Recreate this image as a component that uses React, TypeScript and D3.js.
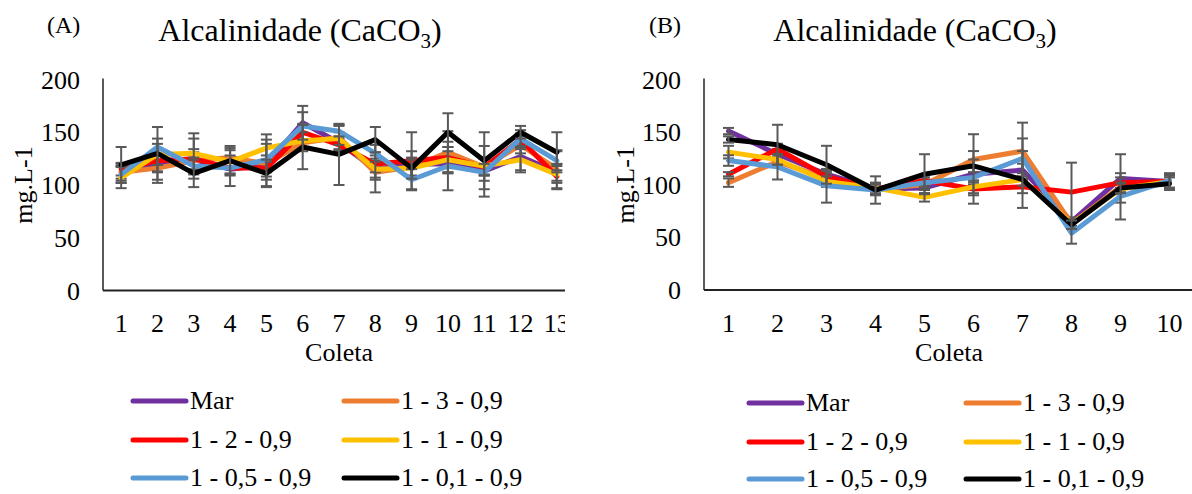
import React from "react";
import * as d3 from "d3";

const seriesNames = ["Mar", "1 - 3 - 0,9", "1 - 2 - 0,9", "1 - 1 - 0,9", "1 - 0,5 - 0,9", "1 - 0,1 - 0,9"];
const seriesColors = ["#7030A0", "#ED7D31", "#FF0000", "#FFC000", "#5B9BD5", "#000000"];
const yTicks = [0, 50, 100, 150, 200];

// Panel A (13 coletas)
const coletasA = ["1", "2", "3", "4", "5", "6", "7", "8", "9", "10", "11", "12", "13"];
const aMar = [112, 120, 124, 115, 119, 159, 140, 115, 120, 120, 113, 127, 112];
const a13 = [112, 116, 123, 126, 120, 140, 145, 112, 117, 131, 117, 138, 115];
const a12 = [115, 123, 125, 116, 116, 150, 138, 120, 123, 126, 117, 143, 108];
const a11 = [107, 129, 130, 122, 135, 142, 144, 115, 116, 124, 118, 124, 110];
const a05 = [110, 136, 118, 116, 124, 156, 151, 130, 105, 118, 112, 144, 123];
const a01 = [119, 130, 111, 123, 111, 136, 129, 143, 116, 150, 123, 150, 131];
const eMarA = [6, 8, 10, 6, 20, 16, 6, 8, 12, 8, 24, 15, 8];
const e13A = [8, 14, 8, 11, 8, 8, 12, 19, 8, 20, 8, 8, 18];
const e12A = [6, 10, 19, 6, 8, 8, 6, 8, 27, 10, 8, 6, 12];
const e11A = [10, 10, 19, 6, 13, 8, 6, 10, 8, 12, 8, 10, 8];
const e05A = [8, 8, 8, 17, 19, 13, 5, 8, 10, 23, 8, 8, 9];
const e01A = [17, 25, 13, 12, 13, 21, 29, 12, 10, 18, 27, 6, 19];

// Panel B (10 coletas)
const coletasB = ["1", "2", "3", "4", "5", "6", "7", "8", "9", "10"];
const bMar = [151, 129, 110, 96, 97, 110, 114, 65, 106, 103];
const b13 = [102, 122, 106, 96, 100, 124, 132, 63, 98, 103];
const b12 = [110, 134, 108, 96, 104, 96, 98, 93, 102, 103];
const b11 = [131, 124, 103, 97, 88, 98, 105, 63, 96, 103];
const b05 = [123, 117, 99, 95, 102, 107, 125, 54, 89, 104];
const b01 = [143, 138, 119, 95, 110, 118, 105, 62, 97, 101];
const eMarB = [3, 5, 5, 5, 5, 6, 6, 4, 23, 6];
const e13B = [4, 5, 5, 5, 5, 24, 27, 4, 5, 6];
const e12B = [2, 5, 5, 5, 5, 6, 6, 28, 5, 6];
const e11B = [6, 5, 5, 5, 4, 6, 6, 4, 5, 6];
const e05B = [5, 12, 16, 13, 5, 25, 19, 10, 22, 7];
const e01B = [3, 19, 18, 5, 19, 6, 27, 4, 5, 6];

const FONT = "'Liberation Serif', 'Times New Roman', serif";

type PanelProps = {
  id: string;
  label: string;
  labelX: number;
  cats: string[];
  values: number[][];
  errors: number[][];
  x0: number;
  x1: number;
  clipRight: number;
  yTop: number;
  yBottom: number;
  titleX: number;
  yTitleX: number;
  legendY: number[];
  legendX: number[];
};

function Panel(p: PanelProps) {
  const x = d3.scalePoint<string>().domain(p.cats).range([p.x0, p.x1]).padding(0.5);
  const y = d3.scaleLinear().domain([0, 200]).range([p.yBottom, p.yTop]);
  const line = d3
    .line<number>()
    .x((_, i) => x(p.cats[i]) as number)
    .y((d) => y(d));
  const axisRight = Math.min(p.x1, p.clipRight);
  return (
    <g fontFamily={FONT} fill="#000">
      <defs>
        <clipPath id={`clip-${p.id}`}>
          <rect x={0} y={0} width={p.clipRight} height={494} />
        </clipPath>
      </defs>
      <text x={p.labelX} y={33} fontSize={24}>
        {p.label}
      </text>
      <text x={p.titleX} y={41} fontSize={32} textAnchor="middle">
        Alcalinidade (CaCO
        <tspan fontSize={21} dy={7}>
          3
        </tspan>
        <tspan dy={-7}>)</tspan>
      </text>
      {yTicks.map((t) => (
        <text key={t} x={p.x0 - 23} y={y(t)} dy="0.35em" fontSize={26} textAnchor="end">
          {t}
        </text>
      ))}
      <text
        transform={`translate(${p.yTitleX},${(p.yTop + p.yBottom) / 2}) rotate(-90)`}
        fontSize={26}
        textAnchor="middle"
        dy="0.35em"
      >
        mg.L-1
      </text>
      <line x1={p.x0} x2={p.x0} y1={p.yTop - 1} y2={p.yBottom} stroke="#000" strokeWidth={1.3} />
      <g clipPath={`url(#clip-${p.id})`}>
        {p.cats.map((c) => (
          <text key={c} x={x(c)} y={332} fontSize={26} textAnchor="middle">
            {c}
          </text>
        ))}
      </g>
      <text x={(p.x0 + p.x1) / 2} y={361} fontSize={26} textAnchor="middle">
        Coleta
      </text>
      {p.values.map((vals, si) => (
        <g key={si}>
          <path
            d={line(vals) as string}
            fill="none"
            stroke={seriesColors[si]}
            strokeWidth={5}
            strokeLinejoin="round"
            strokeLinecap="round"
          />
          {vals.map((v, i) => {
            const cx = x(p.cats[i]) as number;
            const e = p.errors[si][i];
            const top = y(v + e);
            const bot = y(v - e);
            return (
              <g key={i} stroke="#595959" strokeWidth={2}>
                <line x1={cx} x2={cx} y1={top} y2={bot} />
                <line x1={cx - 5.5} x2={cx + 5.5} y1={top} y2={top} />
                <line x1={cx - 5.5} x2={cx + 5.5} y1={bot} y2={bot} />
              </g>
            );
          })}
        </g>
      ))}
      <line x1={p.x0} x2={axisRight} y1={p.yBottom} y2={p.yBottom} stroke="#222" strokeWidth={2} />
      {seriesNames.map((name, si) => {
        const col = si % 2;
        const row = Math.floor(si / 2);
        const lx = p.legendX[col];
        const ly = p.legendY[row];
        return (
          <g key={name}>
            <line
              x1={lx}
              x2={lx + 53}
              y1={ly}
              y2={ly}
              stroke={seriesColors[si]}
              strokeWidth={5}
              strokeLinecap="round"
            />
            <text x={lx + 57} y={ly + 8} fontSize={26}>
              {name}
            </text>
          </g>
        );
      })}
    </g>
  );
}

export default function App() {
  return (
    <svg
      width={1192}
      height={494}
      style={{ position: "absolute", left: 0, top: 0, background: "#fff" }}
    >
      <rect width={1192} height={494} fill="#fff" />
      <Panel
        id="A"
        label="(A)"
        labelX={47}
        cats={coletasA}
        values={[aMar, a13, a12, a11, a05, a01]}
        errors={[eMarA, e13A, e12A, e11A, e05A, e01A]}
        x0={103}
        x1={575}
        clipRight={565}
        yTop={79.5}
        yBottom={290.5}
        titleX={300}
        yTitleX={23}
        legendY={[401, 440, 478]}
        legendX={[133, 344]}
      />
      <Panel
        id="B"
        label="(B)"
        labelX={649}
        cats={coletasB}
        values={[bMar, b13, b12, b11, b05, b01]}
        errors={[eMarB, e13B, e12B, e11B, e05B, e01B]}
        x0={704}
        x1={1194}
        clipRight={1192}
        yTop={79.5}
        yBottom={290}
        titleX={915}
        yTitleX={625}
        legendY={[403, 442, 479]}
        legendX={[749, 966]}
      />
    </svg>
  );
}
